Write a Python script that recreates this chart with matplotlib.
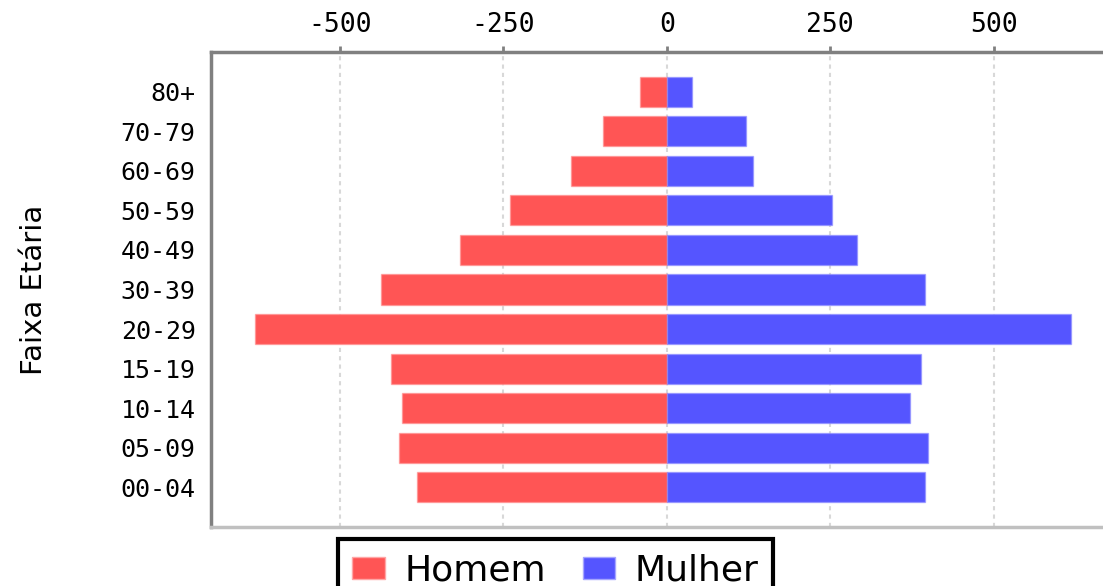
import matplotlib
matplotlib.use('Agg')
import matplotlib.pyplot as plt
from matplotlib.patches import Patch

plt.rcParams['axes.unicode_minus'] = False

# faixas etarias, de baixo para cima
faixas = ['00-04', '05-09', '10-14', '15-19', '20-29', '30-39',
          '40-49', '50-59', '60-69', '70-79', '80+']
homem = [382, 410, 405, 421, 629, 437, 317, 240, 147, 98, 41]
mulher = [395, 399, 372, 388, 618, 395, 291, 252, 132, 121, 38]
ticks = [-500, -250, 0, 250, 500]
tick_labels = ['-500', '-250', '0', '250', '500']

cor_h = '#ff5555'
cor_m = '#5555ff'

fig = plt.figure(figsize=(11.03, 5.86), dpi=100)
ax = fig.add_axes([211 / 1103, 1 - 527 / 586, (1103 - 211) / 1103, (527 - 52) / 586])

y = list(range(len(faixas)))
ax.barh(y, [-v for v in homem], height=0.76, color=cor_h,
        edgecolor=(1, 0.55, 0.55, 0.6), linewidth=1, zorder=3)
ax.barh(y, mulher, height=0.76, color=cor_m,
        edgecolor=(0.55, 0.55, 1, 0.6), linewidth=1, zorder=3)

ax.set_xlim(-697, 667)
ax.set_ylim(-1, len(faixas))

ax.xaxis.tick_top()
ax.set_xticks(ticks)
ax.set_xticklabels(tick_labels, family='DejaVu Sans Mono', fontsize=19)
ax.tick_params(axis='x', length=4, width=2, color='#808080', pad=6)
ax.set_yticks(y)
ax.set_yticklabels(faixas, family='DejaVu Sans Mono', fontsize=18)
ax.tick_params(axis='y', length=0, pad=11)

ax.grid(axis='x', color='#d8d8d8', linestyle=(0, (2, 2)), linewidth=1.5, zorder=0)
ax.grid(axis='y', visible=False)

ax.spines['right'].set_visible(False)
ax.spines['top'].set_color('#808080')
ax.spines['top'].set_linewidth(2.5)
ax.spines['left'].set_color('#808080')
ax.spines['left'].set_linewidth(2.5)
ax.spines['bottom'].set_color('#c0c0c0')
ax.spines['bottom'].set_linewidth(2.5)

ax.set_ylabel('Faixa Etária', family='DejaVu Sans', fontsize=21)
ax.yaxis.set_label_coords(-0.183, 0.5)

handles = [Patch(facecolor=cor_h, edgecolor=(1, 0.65, 0.65), label='Homem'),
           Patch(facecolor=cor_m, edgecolor=(0.65, 0.65, 1), label='Mulher')]
leg = fig.legend(handles=handles, loc='upper left', bbox_to_anchor=(338 / 1103, 1 - 539 / 586),
                 ncol=2, fontsize=26, frameon=True, fancybox=False, borderaxespad=0,
                 handlelength=0.9, handleheight=0.55, handletextpad=0.55,
                 columnspacing=1.0, borderpad=0.4)
leg.get_frame().set_edgecolor('black')
leg.get_frame().set_linewidth(3)
leg.get_frame().set_alpha(1)

fig.savefig('out.png', dpi=100)
